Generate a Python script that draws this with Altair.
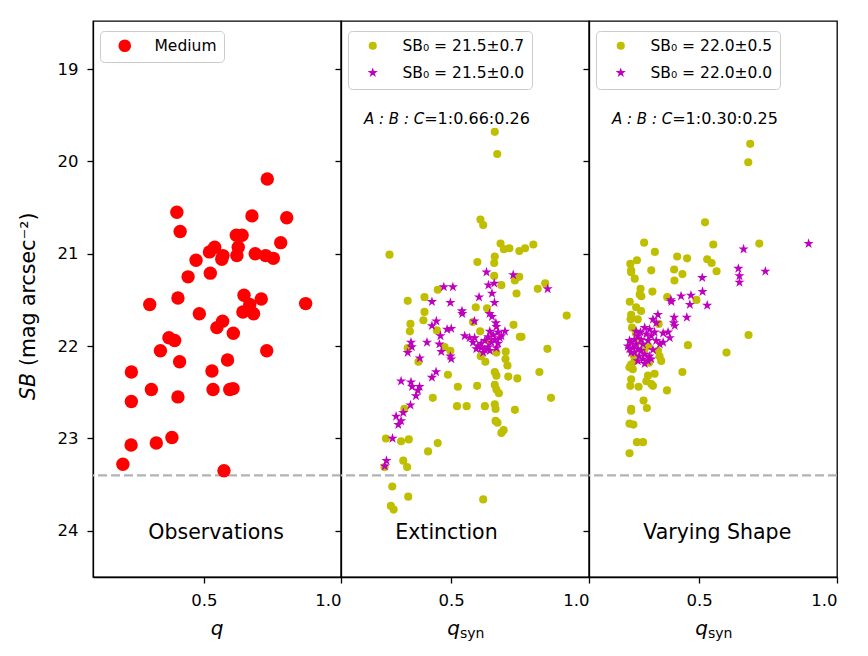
import altair as alt
import pandas as pd

FONT = "DejaVu Sans"

# ---------------- observed galaxies (q, SB) ----------------
obs = [
    (0.731, 20.19), (0.401, 20.55), (0.675, 20.59), (0.802, 20.61), (0.413, 20.76),
    (0.618, 20.80), (0.639, 20.80), (0.780, 20.88), (0.625, 20.93), (0.539, 20.93),
    (0.520, 20.98), (0.569, 21.02), (0.565, 21.06), (0.620, 21.02), (0.687, 21.00),
    (0.725, 21.02), (0.753, 21.05), (0.471, 21.07), (0.523, 21.21), (0.442, 21.25),
    (0.405, 21.48), (0.646, 21.45), (0.709, 21.49), (0.667, 21.55), (0.642, 21.63),
    (0.681, 21.65), (0.302, 21.55), (0.871, 21.54), (0.483, 21.65), (0.568, 21.73),
    (0.547, 21.80), (0.607, 21.86), (0.372, 21.91), (0.393, 21.94), (0.341, 22.05),
    (0.729, 22.05), (0.411, 22.17), (0.586, 22.15), (0.235, 22.28), (0.529, 22.27),
    (0.308, 22.47), (0.533, 22.47), (0.594, 22.47), (0.606, 22.46), (0.405, 22.55),
    (0.235, 22.60), (0.383, 22.99), (0.326, 23.05), (0.234, 23.07), (0.204, 23.28),
    (0.573, 23.35),
]

# ---------------- extinction model ----------------
ext_var = [
    (0.658, 19.68), (0.667, 19.92), (0.606, 20.63), (0.616, 20.69), (0.276, 21.01),
    (0.679, 20.89), (0.691, 20.95), (0.711, 20.94), (0.747, 20.97), (0.768, 20.94),
    (0.798, 20.90), (0.658, 21.03), (0.656, 21.10), (0.595, 21.09), (0.656, 21.24),
    (0.731, 21.29), (0.747, 21.25), (0.682, 21.34), (0.737, 21.43), (0.814, 21.38),
    (0.841, 21.32), (0.451, 21.39), (0.403, 21.47), (0.342, 21.51), (0.589, 21.58),
    (0.630, 21.59), (0.403, 21.63), (0.399, 21.72), (0.919, 21.67), (0.352, 21.76),
    (0.350, 21.84), (0.579, 21.74), (0.605, 21.84), (0.726, 21.77), (0.749, 21.90),
    (0.755, 21.90), (0.448, 21.83), (0.634, 21.94), (0.342, 22.02), (0.476, 22.01),
    (0.497, 22.05), (0.664, 22.07), (0.698, 22.06), (0.849, 22.03), (0.607, 22.11),
    (0.697, 22.14), (0.704, 22.21), (0.381, 22.17), (0.624, 22.17), (0.658, 22.28),
    (0.664, 22.32), (0.488, 22.31), (0.820, 22.28), (0.707, 22.33), (0.740, 22.35),
    (0.524, 22.44), (0.594, 22.43), (0.658, 22.42), (0.664, 22.47), (0.673, 22.51),
    (0.433, 22.56), (0.862, 22.56), (0.521, 22.65), (0.556, 22.65), (0.622, 22.65),
    (0.658, 22.63), (0.661, 22.68), (0.731, 22.69), (0.330, 22.68), (0.661, 22.81),
    (0.668, 22.83), (0.682, 22.94), (0.690, 22.91), (0.263, 23.00), (0.318, 23.03),
    (0.346, 23.01), (0.451, 23.05), (0.416, 23.14), (0.326, 23.24), (0.340, 23.31),
    (0.258, 23.31), (0.286, 23.52), (0.344, 23.63), (0.281, 23.73), (0.291, 23.77),
    (0.616, 23.66),
]
ext_fix = [
    (0.628, 21.20), (0.725, 21.23), (0.473, 21.36), (0.506, 21.36), (0.635, 21.34),
    (0.656, 21.32), (0.850, 21.38), (0.648, 21.43), (0.601, 21.47), (0.430, 21.52),
    (0.497, 21.53), (0.657, 21.53), (0.539, 21.62), (0.540, 21.65), (0.639, 21.65),
    (0.648, 21.68), (0.584, 21.73), (0.446, 21.73), (0.430, 21.78), (0.662, 21.75),
    (0.664, 21.79), (0.485, 21.82), (0.500, 21.81), (0.461, 21.89), (0.695, 21.84),
    (0.670, 21.85), (0.682, 21.89), (0.549, 21.89), (0.567, 21.91), (0.585, 21.91),
    (0.579, 21.96), (0.597, 22.00), (0.609, 22.02), (0.622, 22.04), (0.634, 22.01),
    (0.646, 21.96), (0.658, 21.93), (0.670, 21.97), (0.664, 22.02), (0.640, 22.05),
    (0.616, 22.07), (0.591, 22.03), (0.652, 21.88), (0.634, 21.90), (0.622, 21.94),
    (0.609, 21.97), (0.676, 21.91), (0.640, 21.84), (0.412, 21.96), (0.354, 21.96),
    (0.357, 22.01), (0.342, 22.07), (0.457, 21.98), (0.464, 22.06), (0.497, 22.11),
    (0.500, 22.14), (0.386, 22.13), (0.445, 22.28), (0.430, 22.34), (0.318, 22.38),
    (0.354, 22.39), (0.358, 22.44), (0.385, 22.44), (0.379, 22.48), (0.372, 22.54),
    (0.352, 22.64), (0.326, 22.72), (0.300, 22.76), (0.318, 22.81), (0.308, 22.85),
    (0.287, 23.00), (0.265, 23.24), (0.259, 23.30),
]

# ---------------- varying-shape model ----------------
shp_var = [
    (0.685, 19.81), (0.678, 20.01), (0.521, 20.66), (0.300, 20.88), (0.339, 20.98),
    (0.551, 20.90), (0.718, 20.89), (0.420, 21.03), (0.456, 21.05), (0.529, 21.06),
    (0.545, 21.10), (0.274, 21.07), (0.250, 21.11), (0.253, 21.18), (0.326, 21.18),
    (0.409, 21.17), (0.563, 21.19), (0.439, 21.22), (0.253, 21.20), (0.266, 21.27),
    (0.410, 21.29), (0.287, 21.38), (0.290, 21.46), (0.284, 21.44), (0.330, 21.41),
    (0.248, 21.52), (0.384, 21.47), (0.490, 21.50), (0.271, 21.58), (0.289, 21.62),
    (0.253, 21.66), (0.251, 21.71), (0.277, 21.71), (0.353, 21.76), (0.256, 21.80),
    (0.679, 21.88), (0.459, 21.99), (0.599, 22.07), (0.350, 22.05), (0.356, 22.11),
    (0.362, 22.16), (0.253, 22.20), (0.259, 22.25), (0.265, 22.16), (0.247, 22.23),
    (0.318, 22.18), (0.338, 22.30), (0.314, 22.32), (0.308, 22.38), (0.326, 22.41),
    (0.332, 22.43), (0.439, 22.28), (0.253, 22.36), (0.250, 22.43), (0.280, 22.44),
    (0.383, 22.48), (0.298, 22.59), (0.310, 22.67), (0.253, 22.68), (0.253, 22.70),
    (0.247, 22.84), (0.261, 22.85), (0.274, 23.04), (0.296, 23.04), (0.247, 23.16),
    (0.280, 21.95), (0.300, 22.05), (0.270, 21.86), (0.315, 22.00), (0.262, 22.10),
]
shp_fix = [
    (0.661, 20.95), (0.897, 20.89), (0.642, 21.16), (0.740, 21.19), (0.646, 21.24),
    (0.646, 21.31), (0.511, 21.26), (0.512, 21.41), (0.434, 21.46), (0.470, 21.45),
    (0.466, 21.55), (0.397, 21.50), (0.399, 21.52), (0.529, 21.56), (0.455, 21.69),
    (0.409, 21.69), (0.411, 21.78), (0.408, 21.75), (0.350, 21.66), (0.332, 21.71),
    (0.344, 21.75), (0.387, 21.85), (0.369, 21.86), (0.393, 21.91), (0.369, 21.96),
    (0.357, 21.98), (0.302, 21.80), (0.320, 21.82), (0.287, 21.85), (0.308, 21.87),
    (0.326, 21.89), (0.277, 21.89), (0.265, 21.93), (0.289, 21.93), (0.314, 21.94),
    (0.253, 21.96), (0.241, 22.00), (0.271, 21.98), (0.296, 21.98), (0.259, 22.02),
    (0.247, 22.03), (0.277, 22.03), (0.265, 22.07), (0.289, 22.05), (0.282, 22.11),
    (0.302, 22.09), (0.319, 22.11), (0.296, 22.14), (0.314, 22.16), (0.277, 22.16),
    (0.302, 22.19), (0.326, 22.14), (0.253, 22.07), (0.338, 21.85), (0.344, 21.94),
    (0.332, 22.04), (0.247, 21.94), (0.271, 21.84),
]

ext_labels = ["SB₀ = 21.5±0.7", "SB₀ = 21.5±0.0"]
shp_labels = ["SB₀ = 22.0±0.5", "SB₀ = 22.0±0.0"]
ratio_text = ["=1:0.66:0.26", "=1:0.30:0.25"]
panel_names = ["Observations", "Extinction", "Varying Shape"]
sb_limit = 23.4

# ---------------- layout / style ----------------
W, H = 248, 556
Y_DOM = [18.48, 24.5]
YELLOW, MAGENTA, RED = "#bfbf00", "#bf00bf", "#ff0000"
STAR = ("M0,-1L0.2245,-0.309L0.951,-0.309L0.363,0.118L0.588,0.809L0,0.382"
        "L-0.588,0.809L-0.363,0.118L-0.951,-0.309L-0.2245,-0.309Z")


def xenc(lo):
    return alt.X("q:Q", scale=alt.Scale(domain=[lo, 1.0], nice=False, zero=False),
                 axis=alt.Axis(values=[0.5, 1.0], format=".1f", title=None, grid=False))


def yenc(labels):
    return alt.Y("sb:Q", scale=alt.Scale(domain=Y_DOM, reverse=True, nice=False, zero=False),
                 axis=alt.Axis(values=[19, 20, 21, 22, 23, 24], labels=labels,
                               title=None, grid=False))


legend_style = dict(title=None, orient="none", legendX=7, legendY=10, padding=7,
                    fillColor="white", strokeColor="#cccccc", cornerRadius=4,
                    labelFont=FONT, labelFontSize=15.5, labelColor="black",
                    symbolOffset=10, labelOffset=22, rowPadding=10,
                    symbolStrokeWidth=0)


def frame(df, lo, labels):
    return alt.Chart(df).encode(x=xenc(lo), y=yenc(labels))


def limit_rule(lo, labels):
    return alt.Chart(pd.DataFrame({"sb": [sb_limit]})).mark_rule(
        color="#b3b3b3", strokeWidth=2.4, strokeDash=[9, 4]
    ).encode(y=yenc(labels))


def panel_label(name, lo, labels):
    df = pd.DataFrame({"q": [0.297], "sb": [24.02], "t": [name]})
    return frame(df, lo, labels).mark_text(
        align="left", baseline="middle", fontSize=20.5, font=FONT, color="black"
    ).encode(text="t:N")


def ratio_label(txt, lo):
    df = pd.DataFrame({"q": [0.402], "sb": [19.54], "a": ["A : B : C"], "b": [txt]})
    base = frame(df, lo, False)
    left = base.mark_text(align="right", baseline="middle", fontSize=15, font=FONT,
                          fontStyle="italic", color="black").encode(text="a:N")
    right = base.mark_text(align="left", baseline="middle", fontSize=16, font=FONT,
                           color="black").encode(text="b:N")
    return left + right


def x_title(sub):
    one = pd.DataFrame({"q": ["q"], "s": ["syn"]})
    if not sub:
        return alt.Chart(one).mark_text(
            align="center", baseline="middle", fontSize=20, font=FONT,
            fontStyle="italic", color="black"
        ).encode(x=alt.value(W / 2), y=alt.value(H + 52), text="q:N")
    q = alt.Chart(one).mark_text(
        align="right", baseline="middle", fontSize=20, font=FONT,
        fontStyle="italic", color="black"
    ).encode(x=alt.value(W / 2 - 5), y=alt.value(H + 52), text="q:N")
    s = alt.Chart(one).mark_text(
        align="left", baseline="middle", fontSize=14, font=FONT, color="black"
    ).encode(x=alt.value(W / 2 - 5), y=alt.value(H + 57), text="s:N")
    return q + s


def y_title():
    # italic "SB" reads upward to the anchor, the unit part continues above it
    one = pd.DataFrame({"a": ["SB"], "b": ["(mag arcsec⁻²)"]})
    a = alt.Chart(one).mark_text(
        align="right", baseline="middle", angle=270, fontSize=20.5, font=FONT,
        fontStyle="italic", color="black"
    ).encode(x=alt.value(-64), y=alt.value(352), text="a:N")
    b = alt.Chart(one).mark_text(
        align="left", baseline="middle", angle=270, fontSize=20.5, font=FONT, color="black"
    ).encode(x=alt.value(-64), y=alt.value(345), text="b:N")
    return a + b


# ---------------- panel 1: observations ----------------
obs_df = pd.DataFrame(obs, columns=["q", "sb"])
obs_df["label"] = "Medium"
lo1 = 0.095
obs_pts = frame(obs_df, lo1, True).mark_circle(size=180, opacity=1).encode(
    color=alt.Color("label:N", scale=alt.Scale(domain=["Medium"], range=[RED]),
                    legend=alt.Legend(symbolSize=160, symbolType="circle", **legend_style))
)
p1 = alt.layer(
    limit_rule(lo1, True), obs_pts, panel_label(panel_names[0], lo1, True),
    x_title(False), y_title()
).properties(width=W, height=H)


# ---------------- panels 2, 3: models ----------------
def model_panel(var, fix, labels, ratio, name):
    lo = 0.1
    dv = pd.DataFrame(var, columns=["q", "sb"])
    dv["series"] = labels[0]
    dfx = pd.DataFrame(fix, columns=["q", "sb"])
    dfx["series"] = labels[1]
    df = pd.concat([dv, dfx], ignore_index=True)
    pts = frame(df, lo, False).mark_point(filled=True, opacity=1, strokeWidth=0).encode(
        color=alt.Color("series:N", scale=alt.Scale(domain=labels, range=[YELLOW, MAGENTA]),
                        legend=alt.Legend(symbolSize=64, **legend_style)),
        shape=alt.Shape("series:N", scale=alt.Scale(domain=labels, range=["circle", STAR]),
                        legend=alt.Legend(symbolSize=64, **legend_style)),
        size=alt.Size("series:N", scale=alt.Scale(domain=labels, range=[66, 115]), legend=None),
    )
    return alt.layer(
        limit_rule(lo, False), pts, panel_label(name, lo, False),
        ratio_label(ratio, lo), x_title(True)
    ).properties(width=W, height=H)


p2 = model_panel(ext_var, ext_fix, ext_labels, ratio_text[0], panel_names[1])
p3 = model_panel(shp_var, shp_fix, shp_labels, ratio_text[1], panel_names[2])

chart = alt.hconcat(p1, p2, p3, spacing=0).resolve_scale(
    x="independent", y="independent", color="independent",
    shape="independent", size="independent"
).properties(
    bounds="flush", padding={"left": 18, "top": 20, "right": 10, "bottom": 10}
).configure(font=FONT).configure_view(
    stroke="black", strokeWidth=1.3
).configure_axis(
    domainColor="black", domainWidth=1.3, tickColor="black", tickWidth=1.3,
    tickSize=6, labelColor="black", labelFont=FONT, labelFontSize=16.5,
    labelPadding=9
)

chart.save("out.html", embed_options={"renderer": "svg", "actions": False})
